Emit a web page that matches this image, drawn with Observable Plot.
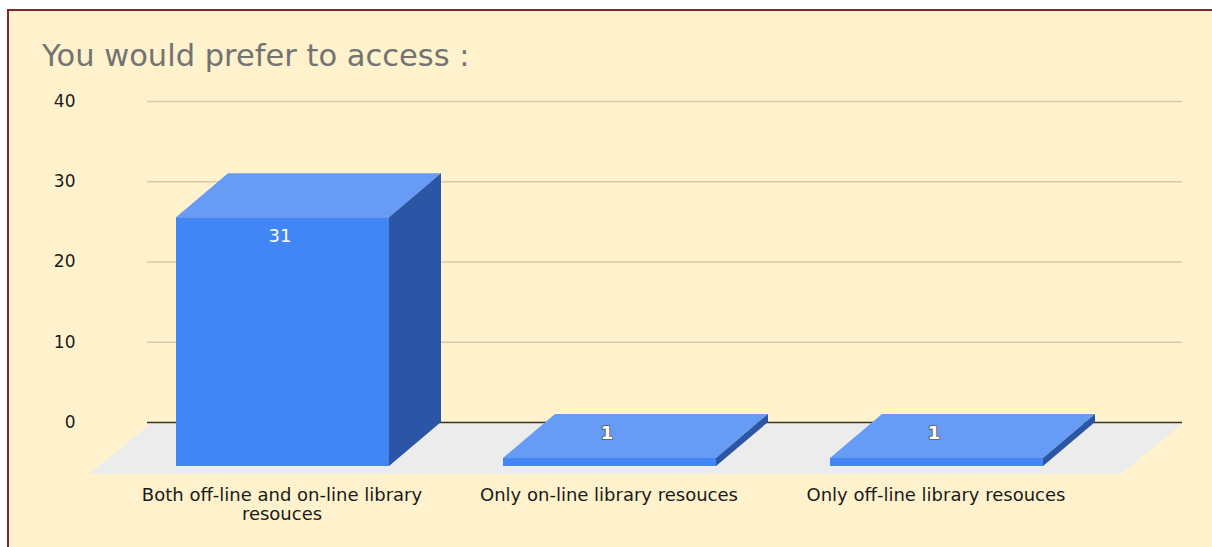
<!DOCTYPE html>
<html>
<head>
<meta charset="utf-8">
<script src="https://cdn.jsdelivr.net/npm/d3@7"></script>
<script src="https://cdn.jsdelivr.net/npm/@observablehq/plot@0.6"></script>
<style>
  html, body { margin: 0; padding: 0; background: #ffffff; width: 1212px; height: 547px; overflow: hidden; }
  #frame { position: absolute; left: 7px; top: 9px; width: 1205px; height: 538px; background: #FFF2CC;
           border-top: 2px solid #7b2b2b; border-left: 2px solid #7b2b2b; }
  #title { position: absolute; left: 42px; top: 41px; font-family: "DejaVu Sans", sans-serif; font-size: 30.5px;
           line-height: 30px; color: #737373; white-space: nowrap; }
  #chart { position: absolute; left: 0; top: 0; }
</style>
</head>
<body>
<div id="frame"></div>
<div id="title">You would prefer to access :</div>
<div id="chart"></div>
<script>
// ---- data ----
const categories = [
  "Both off-line and on-line library resouces",
  "Only on-line library resouces",
  "Only off-line library resouces"
];
const tickLabels = [
  "Both off-line and on-line library\nresouces",
  "Only on-line library resouces",
  "Only off-line library resouces"
];
const counts = [31, 1, 1];
const yTicks = [0, 10, 20, 30, 40];

const data = categories.map((c, i) => ({category: c, label: tickLabels[i], count: counts[i]}));

// ---- styling ----
const FRONT_DX = -52, FRONT_DY = 44;   // front face offset from the back wall
const FLOOR_DX = -61, FLOOR_DY = 50;
const C_FRONT = "#4285F4", C_TOP = "#679CF6", C_SIDE = "#2B56A5";

function floor(index, scales, values, dim) {
  const y0 = scales.y(0) + 2;
  const xl = dim.marginLeft + 3, xr = dim.width - dim.marginRight;
  const g = d3.create("svg:g");
  g.append("path")
    .attr("d", `M${xl},${y0}L${xr},${y0}L${xr + FLOOR_DX},${y0 + FLOOR_DY}L${xl + FLOOR_DX},${y0 + FLOOR_DY}Z`)
    .attr("fill", "#ECECEC");
  return g.node();
}

function faces(index, scales) {
  const x = scales.x, y = scales.y;
  const bw = x.bandwidth ? x.bandwidth() : 212;
  const g = d3.create("svg:g");
  data.forEach(d => {
    const x0 = x(d.category) + FRONT_DX, x1 = x0 + bw;
    const yt = y(d.count) + FRONT_DY, yb = y(0) + FRONT_DY;
    const bx = -FRONT_DX, by = -FRONT_DY;
    g.append("path")
      .attr("d", `M${x0},${yt}L${x1},${yt}L${x1 + bx},${yt + by}L${x0 + bx},${yt + by}Z`)
      .attr("fill", C_TOP);
    g.append("path")
      .attr("d", `M${x1},${yt}L${x1},${yb}L${x1 + bx},${yb + by}L${x1 + bx},${yt + by}Z`)
      .attr("fill", C_SIDE);
  });
  return g.node();
}

const chart = Plot.plot({
  width: 1212,
  height: 547,
  marginLeft: 147,
  marginRight: 30,
  marginTop: 101,
  marginBottom: 125,
  style: {background: "transparent", fontFamily: "DejaVu Sans, sans-serif", overflow: "visible"},
  x: {domain: categories, range: [113.3, 1208.8], padding: 0.35, axis: null},
  y: {domain: [0, 40], axis: null},
  marks: [
    Plot.ruleY(yTicks.filter(t => t > 0), {stroke: "#d6cba6", strokeWidth: 1.5}),
    floor,
    Plot.ruleY([0], {stroke: "#333333", strokeWidth: 1.5}),
    Plot.barY(data, {x: "category", y: "count", fill: C_FRONT, dx: FRONT_DX, dy: FRONT_DY}),
    faces,
    Plot.text(yTicks, {y: d => d, text: d => String(d), frameAnchor: "left", dx: -72, textAnchor: "end",
                       fontSize: 17, fill: "#1a1a1a"}),
    Plot.text(data, {x: "category", y: 0, text: "label", dx: -53, dy: 64, lineAnchor: "top",
                     fontSize: 18, lineHeight: 1.1, fill: "#1a1a1a"}),
    Plot.text(data.filter(d => d.count > 5), {x: "category", y: "count", text: d => String(d.count),
                     dx: FRONT_DX - 3, dy: FRONT_DY + 19, fontSize: 18, fill: "white"}),
    Plot.text(data.filter(d => d.count <= 5), {x: "category", y: "count", text: d => String(d.count),
                     dx: FRONT_DX - 3, dy: 18.5, fontSize: 18, fontWeight: "bold", fill: "white",
                     stroke: "#666", strokeWidth: 2, paintOrder: "stroke"})
  ]
});
document.getElementById("chart").appendChild(chart);
</script>
</body>
</html>
